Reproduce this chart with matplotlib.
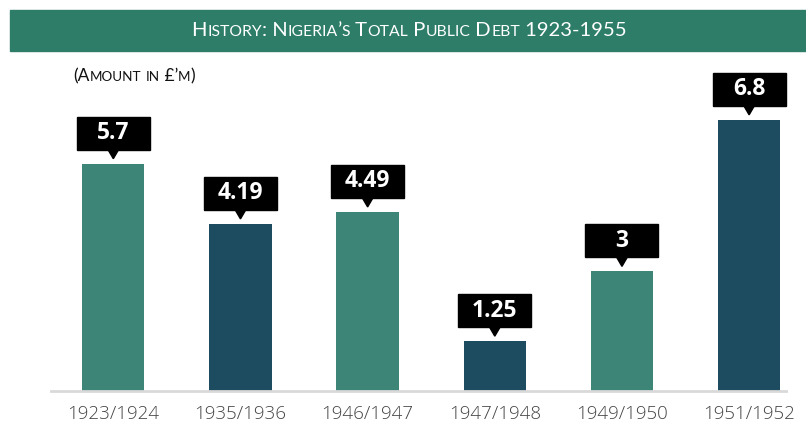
import numpy as np
import matplotlib
matplotlib.use("Agg")
import matplotlib.pyplot as plt
from matplotlib.patches import Rectangle, Polygon

periods = ["1923/1924", "1935/1936", "1946/1947", "1947/1948", "1949/1950", "1951/1952"]
debt = [5.7, 4.19, 4.49, 1.25, 3, 6.8]
debt_labels = ["5.7", "4.19", "4.49", "1.25", "3", "6.8"]
bar_colors = ["#3d8576", "#1d4c60", "#3d8576", "#1d4c60", "#3d8576", "#1d4c60"]

title = "History: Nigeria\u2019s Total Public Debt 1923-1955"
subtitle = "(Amount in \u00a3\u2019m)"

fig = plt.figure(figsize=(8.06, 4.26), dpi=100)
W, H = 806, 426

# banner
fig.patches.append(Rectangle((10 / W, 1 - 51 / H), 796 / W, 41 / H,
                             transform=fig.transFigure, color="#2e7d68", zorder=0))


def small_caps(x, y, s, size, color, ha="left", family="Lato"):
    # fake small caps: lowercase letters drawn as smaller capitals
    r = fig.canvas.get_renderer()
    runs = []
    for ch in s:
        small = ch.islower()
        if runs and runs[-1][1] == small:
            runs[-1][0] += ch
        else:
            runs.append([ch, small])
    texts = []
    total = 0
    for txt, small in runs:
        fs = size * 0.78 if small else size
        t = fig.text(0, y, txt.upper(), fontsize=fs, color=color, family=family,
                     va="baseline", ha="left", transform=fig.transFigure)
        w = t.get_window_extent(r).width
        texts.append((t, w))
        total += w
    start = x * W - (total / 2 if ha == "center" else 0)
    for t, w in texts:
        t.set_x(start / W)
        start += w


small_caps(409 / W, 1 - 36 / H, title, 14.6, "white", ha="center")
small_caps(73 / W, 1 - 81 / H, subtitle, 12.5, "#111111")

ax = fig.add_axes([51 / W, 35 / H, 735 / W, 331 / H])
x = np.arange(len(periods))
ax.bar(x, debt, width=0.49, color=bar_colors, zorder=2)
ax.set_xlim(-0.49, 5.29)
ax.set_ylim(0, 8.3)

ppu = 331 / 8.3          # pixels per y unit
ppx = 735 / 5.78         # pixels per x unit
for xi, v, lab in zip(x, debt, debt_labels):
    bot = v + 14 / ppu
    bh = 33 / ppu
    bw = 73 / ppx
    ax.add_patch(Rectangle((xi - bw / 2, bot), bw, bh, color="black", zorder=3, clip_on=False))
    ax.add_patch(Polygon([[xi - 5.5 / ppx, bot + 0.01], [xi + 5.5 / ppx, bot + 0.01], [xi, v + 5 / ppu]],
                         closed=True, color="black", zorder=3, clip_on=False))
    ax.text(xi, bot + bh / 2, lab, ha="center", va="center", color="white",
            fontsize=16.5, fontweight="bold", family="Open Sans", zorder=4)

for s in ["top", "right", "left"]:
    ax.spines[s].set_visible(False)
ax.spines["bottom"].set_color("#d9d9d9")
ax.spines["bottom"].set_linewidth(2)
ax.set_yticks([])
ax.set_xticks(x)
ax.set_xticklabels(periods, fontsize=13.5, color="#444444", family="Open Sans", fontweight="light")
ax.tick_params(axis="x", length=0, pad=10)

fig.savefig("out.png", dpi=100)
